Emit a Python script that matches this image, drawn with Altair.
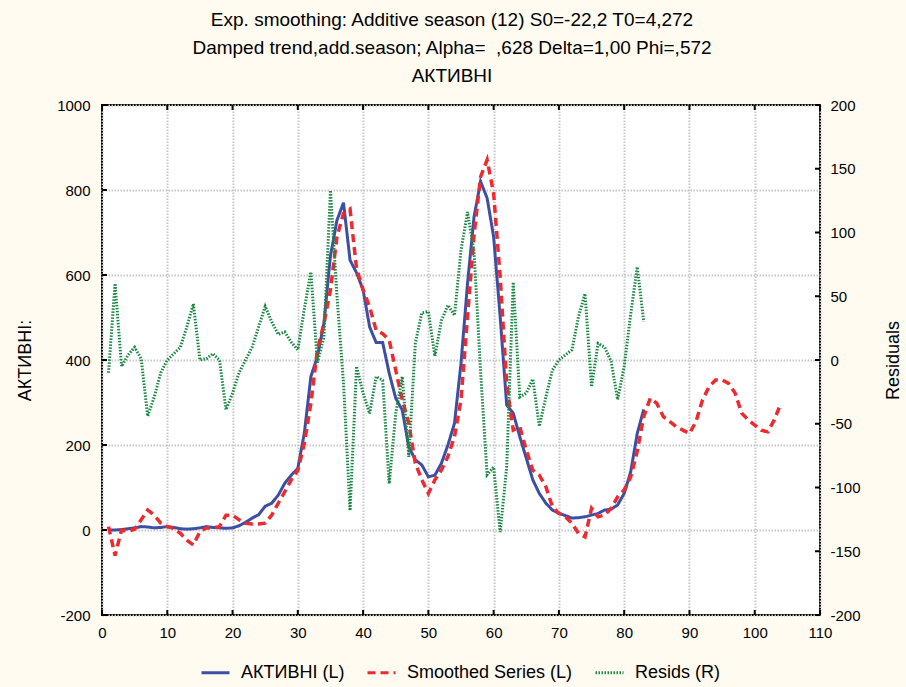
import altair as alt
import pandas as pd

FONT = "Liberation Sans"
W, H = 718, 510

# Observed periods and the three series
periods_obs = list(range(1, 84))
periods_fc = list(range(1, 105))

aktyvni = [
    0, 0, 1, 3, 5, 8, 7, 5, 6, 8,
    6, 3, 2, 3, 5, 8, 6, 5, 4, 5,
    10, 18, 28, 36, 56, 63, 82, 110, 129, 145,
    228, 361, 408, 487, 645, 729, 770, 635, 605, 565,
    478, 441, 441, 369, 310, 282, 196, 165, 153, 125,
    129, 157, 200, 251, 392, 580, 737, 820, 781, 690,
    502, 294, 275, 220, 169, 118, 86, 63, 47, 39,
    34, 28, 29, 31, 35, 39, 47, 49, 59, 86,
    137, 227, 284,
]

smoothed = [
    8, -60, 0, -3, 2, 24, 47, 35, 16, 8,
    4, -8, -24, -35, -4, 5, 5, 8, 35, 35,
    24, 16, 14, 14, 16, 35, 63, 90, 118, 140,
    204, 298, 424, 486, 565, 690, 745, 755, 615, 565,
    525, 470, 462, 447, 376, 306, 251, 157, 118, 86,
    118, 141, 173, 220, 306, 502, 695, 831, 871, 792,
    596, 345, 235, 243, 188, 141, 129, 102, 55, 39,
    31, 16, -8, -16, 51, 31, 35, 51, 78, 94,
    125, 185, 267, 310, 298, 267, 255, 243, 235, 227,
    255, 306, 337, 353, 353, 345, 322, 275, 259, 247,
    235, 231, 259, 298,
]

resids = [
    -10, 60, -5, 4, 10, 1, -44, -29, -10, 0,
    5, 10, 26, 44, 0, 1, 5, 0, -39, -26,
    -10, 0, 10, 26, 42, 30, 20, 22, 14, 8,
    40, 69, -2, 18, 133, 50, -18, -118, -5, -26,
    -42, -13, -16, -97, -42, -13, -76, 13, 37, 38,
    3, 31, 43, 35, 86, 116, 85, -9, -90, -84,
    -135, -84, 61, -29, -26, -15, -52, -29, -8, 0,
    4, 8, 34, 52, -21, 13, 10, -1, -31, -5,
    36, 73, 30,
]

x_ticks = [0, 10, 20, 30, 40, 50, 60, 70, 80, 90, 100, 110]
left_ticks = [-200, 0, 200, 400, 600, 800, 1000]
right_ticks = [-200, -150, -100, -50, 0, 50, 100, 150, 200]

series_names = ["АКТИВНІ (L)", "Smoothed Series (L)", "Resids (R)"]
series_colors = ["#3B4FA4", "#EE2A2F", "#1B8744"]
series_dashes = [[1, 0], [8, 5], [1.5, 1.5]]

title_lines = [
    "Exp. smoothing: Additive season (12) S0=-22,2 T0=4,272",
    "Damped trend,add.season; Alpha=\u00a0\u00a0,628 Delta=1,00 Phi=,572",
    "АКТИВНІ",
]

df_act = pd.DataFrame({"t": periods_obs, "value": aktyvni, "series": series_names[0]})
df_smo = pd.DataFrame({"t": periods_fc, "value": smoothed, "series": series_names[1]})
df_res = pd.DataFrame({"t": periods_obs, "value": resids, "series": series_names[2]})
df_xt = pd.DataFrame({"t": x_ticks})
df_lt = pd.DataFrame({"value": left_ticks})
df_rt = pd.DataFrame({"value": right_ticks})

x_scale = alt.Scale(domain=[0, 110], nice=False, zero=False)
left_scale = alt.Scale(domain=[-200, 1000], nice=False, zero=False)
right_scale = alt.Scale(domain=[-200, 200], nice=False, zero=False)
color_scale = alt.Scale(domain=series_names, range=series_colors)
dash_scale = alt.Scale(domain=series_names, range=series_dashes)

legend = alt.Legend(
    title=None,
    orient="none",
    legendX=98,
    legendY=552,
    direction="horizontal",
    symbolType="stroke",
    symbolSize=784,
    symbolStrokeWidth=3,
    labelFont=FONT,
    labelFontSize=18,
    labelColor="black",
    labelOffset=10,
    labelLimit=0,
    columnPadding=16,
    padding=0,
)

# Plain hyphen for negative tick labels
hyphen_minus = "replace(datum.label, '\u2212', '-')"

x_axis = alt.Axis(
    values=x_ticks, title=None, grid=True, ticks=False, domain=False,
    labelPadding=10, labelFlush=False, format="d",
)
left_axis = alt.Axis(
    values=left_ticks, title="АКТИВНІ:", grid=True, ticks=False, domain=False,
    labelPadding=12, labelFlush=False, format="d", labelExpr=hyphen_minus,
    titleAngle=-90, titleX=-77, titleY=H / 2, titleAlign="center", titleBaseline="middle",
)
right_axis = alt.Axis(
    values=right_ticks, title="Residuals", orient="right", grid=False, ticks=False,
    domain=False, labelPadding=10, labelFlush=False, format="d", labelExpr=hyphen_minus,
    titleAngle=-90, titleX=73, titleY=H / 2, titleAlign="center", titleBaseline="middle",
)

X = alt.X("t:Q", scale=x_scale, axis=x_axis)
Y_LEFT = alt.Y("value:Q", scale=left_scale, axis=left_axis)
Y_RIGHT = alt.Y("value:Q", scale=right_scale, axis=right_axis)


def series_line(df, width, y_enc):
    return alt.Chart(df).mark_line(strokeWidth=width).encode(
        x=X,
        y=y_enc,
        color=alt.Color("series:N", scale=color_scale, legend=legend),
        strokeDash=alt.StrokeDash("series:N", scale=dash_scale, legend=legend),
    )


blue = series_line(df_act, 3, Y_LEFT)
red = series_line(df_smo, 3.5, Y_LEFT)
green = series_line(df_res, 3, Y_RIGHT)

# Short inward tick marks on all four sides of the frame
tick_style = dict(color="black", strokeWidth=2)
left_tick_marks = alt.Chart(df_lt).mark_rule(**tick_style).encode(
    y=Y_LEFT, x=alt.value(0), x2=alt.value(5))
top_tick_marks = alt.Chart(df_xt).mark_rule(**tick_style).encode(
    x=X, y=alt.value(0), y2=alt.value(5))
bottom_tick_marks = alt.Chart(df_xt).mark_rule(**tick_style).encode(
    x=X, y=alt.value(H - 5), y2=alt.value(H))
right_tick_marks = alt.Chart(df_rt).mark_rule(**tick_style).encode(
    y=Y_RIGHT, x=alt.value(W - 5), x2=alt.value(W))

left_side = alt.layer(blue, red, left_tick_marks, top_tick_marks, bottom_tick_marks)
right_side = alt.layer(green, right_tick_marks)

chart = (
    alt.layer(left_side, right_side)
    .resolve_scale(y="independent")
    .properties(
        width=W,
        height=H,
        autosize=alt.AutoSizeParams(type="none"),
        padding={"left": 102, "top": 105, "right": 86, "bottom": 72},
        background="#FFFBF0",
        title=alt.TitleParams(
            text=title_lines,
            font=FONT,
            fontSize=19,
            fontWeight="normal",
            color="black",
            anchor="middle",
            lineHeight=28,
            offset=12,
            dx=-9,
        ),
    )
    .configure_view(fill="white", stroke="black", strokeWidth=2)
    .configure_axis(
        labelFont=FONT,
        labelFontSize=15,
        labelColor="black",
        titleFont=FONT,
        titleFontSize=18,
        titleFontWeight="normal",
        titleColor="black",
        gridColor="#C8C8C8",
        gridDash=[1.5, 1.5],
        gridWidth=2,
    )
)

chart.save("out.html", embed_options={"renderer": "svg", "actions": False})
